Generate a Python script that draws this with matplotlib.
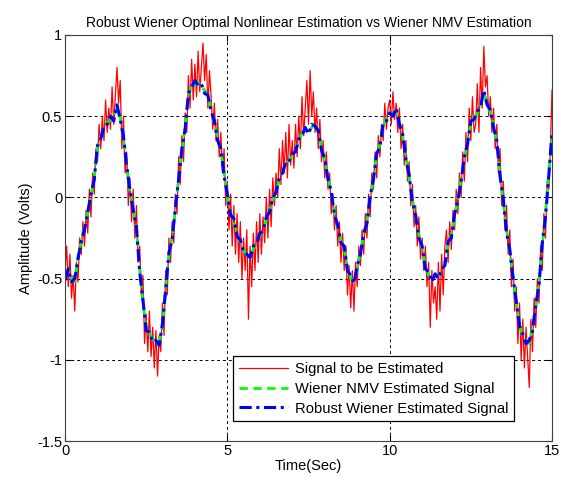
import numpy as np
import matplotlib
matplotlib.use("Agg")
import matplotlib.pyplot as plt

plt.rcParams['font.family'] = ['Liberation Sans', 'DejaVu Sans']

signal_t = np.arange(301) * 0.05
signal = [
    -0.45, -0.30, -0.55, -0.35, -0.62, -0.48, -0.70, -0.40, -0.52, -0.25, -0.35, -0.15, -0.30, -0.08, -0.22, 0.05, -0.12, 0.15, 0.02, 0.30,
    0.22, 0.45, 0.30, 0.50, 0.35, 0.60, 0.40, 0.55, 0.42, 0.68, 0.45, 0.62, 0.80, 0.58, 0.72, 0.30, 0.50, 0.15, 0.28, -0.05,
    0.12, -0.15, 0.05, -0.25, -0.05, -0.40, -0.30, -0.60, -0.48, -0.90, -0.72, -0.95, -0.70, -0.98, -0.80, -1.05, -0.82, -1.10, -0.85, -0.95,
    -0.65, -0.85, -0.45, -0.60, -0.25, -0.40, -0.15, -0.28, 0.02, -0.10, 0.25, 0.08, 0.38, 0.22, 0.52, 0.40, 0.75, 0.55, 0.85, 0.60,
    0.82, 0.62, 0.90, 0.65, 0.80, 0.95, 0.72, 0.88, 0.55, 0.78, 0.62, 0.42, 0.58, 0.35, 0.48, 0.25, 0.40, 0.15, 0.30, -0.05,
    0.10, -0.20, 0.02, -0.30, -0.05, -0.35, -0.10, -0.40, -0.15, -0.50, -0.25, -0.45, -0.20, -0.75, -0.30, -0.55, -0.22, -0.45, -0.15, -0.40,
    -0.10, -0.35, -0.12, -0.28, 0.00, -0.25, 0.05, -0.18, 0.12, -0.05, 0.15, 0.00, 0.30, 0.08, 0.35, 0.15, 0.40, 0.12, 0.45, 0.20,
    0.35, 0.18, 0.45, 0.25, 0.50, 0.30, 0.62, 0.38, 0.55, 0.72, 0.45, 0.78, 0.50, 0.65, 0.40, 0.55, 0.30, 0.48, 0.22, 0.35,
    0.12, 0.28, 0.05, 0.15, -0.10, 0.02, -0.20, -0.05, -0.30, -0.15, -0.40, -0.22, -0.45, -0.30, -0.60, -0.42, -0.68, -0.45, -0.70, -0.40,
    -0.55, -0.30, -0.42, -0.20, -0.35, -0.10, -0.25, 0.02, -0.12, 0.15, 0.05, 0.28, 0.12, 0.38, 0.25, 0.45, 0.35, 0.58, 0.42, 0.55,
    0.60, 0.45, 0.65, 0.48, 0.58, 0.40, 0.55, 0.30, 0.45, 0.20, 0.35, 0.10, 0.22, -0.05, 0.08, -0.18, -0.05, -0.30, -0.12, -0.38,
    -0.25, -0.45, -0.30, -0.55, -0.40, -0.80, -0.45, -0.65, -0.55, -0.75, -0.40, -0.70, -0.35, -0.60, -0.30, -0.20, -0.40, -0.15, -0.32, -0.08,
    -0.20, 0.05, -0.10, 0.15, 0.00, 0.28, 0.10, 0.40, 0.22, 0.55, 0.35, 0.62, 0.40, 0.45, 0.70, 0.40, 0.80, 0.55, 0.93, 0.68,
    0.75, 0.50, 0.62, 0.40, 0.55, 0.30, 0.45, 0.15, 0.30, -0.05, 0.10, -0.20, -0.05, -0.35, -0.20, -0.55, -0.38, -0.70, -0.55, -0.90,
    -0.65, -1.00, -0.75, -1.05, -0.80, -0.98, -1.17, -0.75, -0.95, -0.62, -0.80, -0.50, -0.65, -0.30, -0.45, -0.10, -0.25, 0.10, 0.05, 0.30,
    0.66,
]

# estimates, sampled every 0.1 s
est_t = np.arange(151) * 0.1
wiener_nmv = [
    -0.49, -0.45, -0.50, -0.52, -0.36, -0.28, -0.18, -0.10, 0.01, 0.13,
    0.30, 0.38, 0.42, 0.46, 0.48, 0.50, 0.55, 0.50, 0.36, 0.21,
    0.03, -0.06, -0.20, -0.44, -0.65, -0.80, -0.84, -0.87, -0.90, -0.89,
    -0.80, -0.55, -0.36, -0.24, -0.08, 0.13, 0.28, 0.44, 0.62, 0.70,
    0.69, 0.71, 0.68, 0.66, 0.62, 0.55, 0.45, 0.37, 0.28, 0.15,
    0.00, -0.09, -0.15, -0.22, -0.27, -0.32, -0.36, -0.35, -0.32, -0.28,
    -0.24, -0.20, -0.14, -0.08, -0.02, 0.04, 0.10, 0.16, 0.20, 0.23,
    0.25, 0.29, 0.34, 0.40, 0.41, 0.40, 0.43, 0.46, 0.40, 0.31,
    0.22, 0.13, 0.02, -0.09, -0.19, -0.26, -0.32, -0.43, -0.50, -0.51,
    -0.44, -0.33, -0.24, -0.14, -0.01, 0.13, 0.25, 0.33, 0.44, 0.49,
    0.50, 0.52, 0.53, 0.47, 0.37, 0.25, 0.12, -0.01, -0.13, -0.23,
    -0.32, -0.42, -0.48, -0.50, -0.49, -0.48, -0.46, -0.40, -0.29, -0.23,
    -0.12, 0.00, 0.12, 0.23, 0.35, 0.45, 0.50, 0.51, 0.58, 0.64,
    0.59, 0.52, 0.45, 0.33, 0.15, -0.03, -0.20, -0.34, -0.48, -0.66,
    -0.77, -0.86, -0.88, -0.90, -0.80, -0.68, -0.52, -0.30, -0.10, 0.15,
    0.38,
]
robust_wiener = [
    -0.51, -0.44, -0.52, -0.50, -0.38, -0.27, -0.20, -0.09, 0.02, 0.11,
    0.32, 0.36, 0.44, 0.45, 0.50, 0.47, 0.57, 0.48, 0.38, 0.19,
    0.05, -0.08, -0.18, -0.46, -0.63, -0.82, -0.83, -0.89, -0.88, -0.91,
    -0.78, -0.57, -0.34, -0.26, -0.06, 0.11, 0.30, 0.42, 0.64, 0.68,
    0.72, 0.69, 0.70, 0.64, 0.63, 0.53, 0.47, 0.35, 0.30, 0.13,
    0.02, -0.11, -0.13, -0.24, -0.26, -0.34, -0.35, -0.37, -0.30, -0.29,
    -0.22, -0.21, -0.12, -0.09, 0.00, 0.03, 0.12, 0.15, 0.22, 0.22,
    0.27, 0.28, 0.36, 0.38, 0.43, 0.39, 0.45, 0.44, 0.41, 0.29,
    0.24, 0.11, 0.04, -0.11, -0.17, -0.28, -0.30, -0.45, -0.48, -0.53,
    -0.42, -0.35, -0.22, -0.16, 0.01, 0.11, 0.27, 0.31, 0.46, 0.47,
    0.52, 0.50, 0.55, 0.45, 0.39, 0.23, 0.14, -0.03, -0.11, -0.25,
    -0.30, -0.44, -0.46, -0.52, -0.47, -0.50, -0.44, -0.42, -0.27, -0.25,
    -0.10, -0.02, 0.10, 0.25, 0.33, 0.47, 0.48, 0.53, 0.56, 0.66,
    0.57, 0.54, 0.43, 0.35, 0.13, -0.01, -0.22, -0.32, -0.50, -0.64,
    -0.79, -0.84, -0.90, -0.88, -0.82, -0.66, -0.54, -0.28, -0.12, 0.13,
    0.40,
]

fig = plt.figure(figsize=(5.62, 4.84), dpi=100)
ax = fig.add_axes([0.1157, 0.0888, 0.8665, 0.8389])

ax.plot(signal_t, signal, color='#ff0000', lw=0.9, label='Signal to be Estimated')
ax.plot(est_t, wiener_nmv, color='#00ff00', lw=2, ls=(0, (3, 2)), label='Wiener NMV Estimated Signal')
ax.plot(est_t, robust_wiener, color='#0000ff', lw=2.2, ls=(0, (4, 1.5, 1, 1.5)), label='Robust Wiener Estimated Signal')

ax.set_xlim(0, 15)
ax.set_ylim(-1.5, 1)
ax.set_xticks([0, 5, 10, 15])
ax.set_yticks([-1.5, -1, -0.5, 0, 0.5, 1])
ax.set_yticklabels(['-1.5', '-1', '-0.5', '0', '0.5', '1'])
ax.tick_params(direction='in', length=4, labelsize=10.5, top=True, right=True, pad=2)
ax.grid(True, color='black', ls=(0, (3, 3)), lw=0.7)
for s in ax.spines.values():
    s.set_color('#404040')

ax.set_title('Robust Wiener Optimal Nonlinear Estimation vs Wiener NMV Estimation', fontsize=10, pad=6)
ax.set_xlabel('Time(Sec)', fontsize=10.5, labelpad=1)
ax.set_ylabel('Amplitude (Volts)', fontsize=10.5, labelpad=3)

leg = ax.legend(loc='lower left', bbox_to_anchor=(0.33, 0.03), fontsize=10.6,
                fancybox=False, framealpha=1, edgecolor='black', borderpad=0.4,
                handlelength=3.3, handletextpad=0.5, labelspacing=0.4)
leg.get_frame().set_linewidth(0.9)

fig.savefig('out.png', dpi=100)
